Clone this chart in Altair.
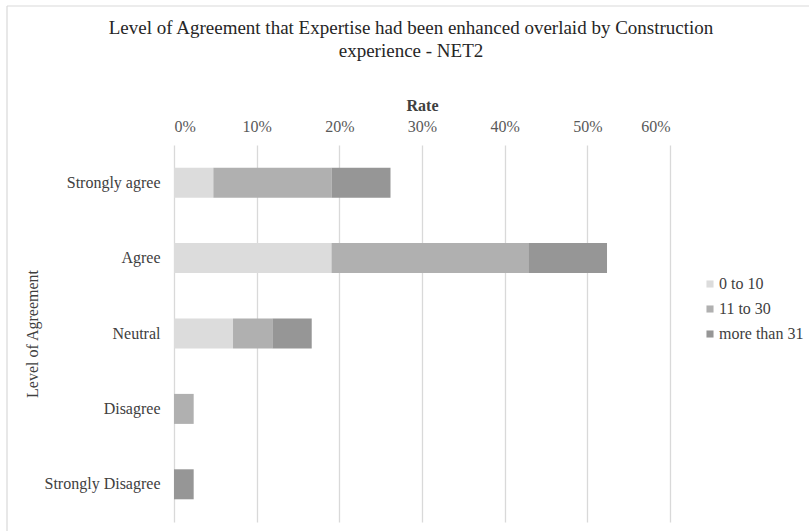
import altair as alt
import pandas as pd

categories = ["Strongly agree", "Agree", "Neutral", "Disagree", "Strongly Disagree"]
groups = ["0 to 10", "11 to 30", "more than 31"]
vals_0_10 = [0.0476, 0.1905, 0.0714, 0.0, 0.0]
vals_11_30 = [0.1429, 0.2381, 0.0476, 0.0238, 0.0]
vals_31 = [0.0714, 0.0952, 0.0476, 0.0, 0.0238]
colors = ["#dcdcdc", "#b0b0b0", "#969696"]

rows = []
for g_i, (g, vals) in enumerate(zip(groups, [vals_0_10, vals_11_30, vals_31])):
    for c, v in zip(categories, vals):
        rows.append({"level": c, "group": g, "rate": v, "ord": g_i})
df = pd.DataFrame(rows)

FONT = "Liberation Serif"
W, H = 496, 377

bars = alt.Chart(df).mark_bar(size=30).encode(
    y=alt.Y("level:N", sort=categories,
            axis=alt.Axis(title="Level of Agreement", ticks=False, domain=False,
                          labelPadding=14, labelFontSize=16, labelColor="#404040",
                          labelFont=FONT, titleFont=FONT, titleFontSize=16,
                          titleFontWeight="normal", titleColor="#404040",
                          titleAngle=270, titleX=-142, titleY=H / 2,
                          titleAlign="center", titleBaseline="middle")),
    x=alt.X("rate:Q", stack="zero",
            scale=alt.Scale(domain=[0, 0.6], nice=False),
            axis=alt.Axis(orient="top", format=".0%", values=[0, 0.1, 0.2, 0.3, 0.4, 0.5, 0.6],
                          title="Rate", ticks=False, tickSize=0, domain=False,
                          labelPadding=11, labelFontSize=16, labelColor="#595959",
                          labelFont=FONT, titleFont=FONT, titleFontSize=16,
                          titleFontWeight="bold", titleColor="#404040",
                          titleX=W / 2, titleY=-40, titleAlign="center",
                          titleBaseline="middle",
                          grid=True, gridColor="#d9d9d9", gridWidth=1.3)),
    color=alt.Color("group:N", scale=alt.Scale(domain=groups, range=colors),
                    legend=alt.Legend(title="", orient="none", legendX=528, legendY=131,
                                      symbolType="square", symbolSize=50,
                                      symbolStrokeWidth=0, labelFont=FONT,
                                      labelFontSize=16, labelColor="#404040",
                                      rowPadding=9, labelOffset=1)),
    order=alt.Order("ord:Q"),
)

frame_data = alt.Data(values=[{"k": 1}])
top_border = alt.Chart(frame_data).mark_rule(color="#d9d9d9", strokeWidth=1.2).encode(
    x=alt.value(-167), x2=alt.value(809 - 174), y=alt.value(-139))
left_border = alt.Chart(frame_data).mark_rule(color="#d9d9d9", strokeWidth=1.2).encode(
    x=alt.value(-167), y=alt.value(-139), y2=alt.value(H + 20))

chart = alt.layer(bars, top_border, left_border).properties(
    width=W, height=H, background="white",
    title=alt.TitleParams(
        text=["Level of Agreement that Expertise had been enhanced overlaid by Construction",
              "experience - NET2"],
        font=FONT, fontSize=19, fontWeight="normal", color="#262626",
        anchor="middle", dx=-11, dy=56, lineHeight=23, offset=0),
    autosize=alt.AutoSizeParams(type="none"),
    padding={"left": 174, "top": 145, "right": 139, "bottom": 9},
).configure_view(stroke=None)

chart.save("out.html", embed_options={"renderer": "svg", "actions": False})
